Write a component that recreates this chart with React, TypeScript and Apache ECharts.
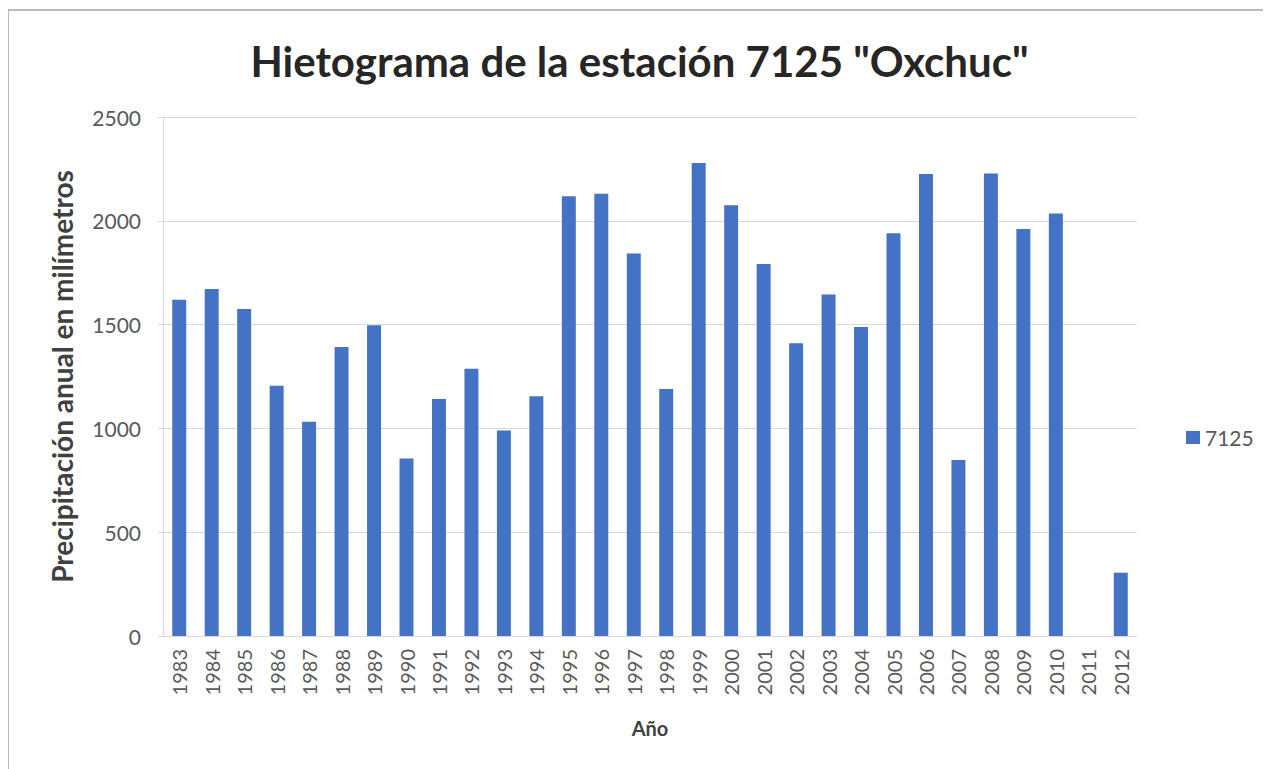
import React, { useEffect, useRef } from "react";
import * as echarts from "echarts";

const years = [
  "1983", "1984", "1985", "1986", "1987", "1988", "1989", "1990", "1991", "1992",
  "1993", "1994", "1995", "1996", "1997", "1998", "1999", "2000", "2001", "2002",
  "2003", "2004", "2005", "2006", "2007", "2008", "2009", "2010", "2011", "2012",
];
const precip7125: (number | null)[] = [
  1620, 1672, 1575, 1205, 1032, 1392, 1497, 855, 1142, 1287,
  990, 1155, 2118, 2130, 1842, 1190, 2278, 2075, 1792, 1410,
  1645, 1488, 1940, 2225, 848, 2228, 1960, 2035, null, 305,
];
const yTicks = [0, 500, 1000, 1500, 2000, 2500];

const FONT = "Lato, 'Open Sans', sans-serif";

export default function App() {
  const ref = useRef<HTMLDivElement>(null);
  useEffect(() => {
    if (!ref.current) return;
    const chart = echarts.init(ref.current, undefined, { renderer: "svg" });
    chart.setOption({
      animation: false,
      backgroundColor: "#ffffff",
      title: {
        text: 'Hietograma de la estación 7125 "Oxchuc"',
        left: "center",
        top: 27,
        textStyle: { fontFamily: FONT, fontWeight: "bold", fontSize: 42, color: "#262626" },
      },
      legend: {
        data: ["7125"],
        orient: "vertical",
        left: 1173,
        top: 414,
        itemWidth: 14,
        itemHeight: 13,
        itemGap: 6,
        textStyle: { fontFamily: FONT, fontSize: 21, color: "#595959" },
        icon: "rect",
      },
      grid: { left: 155, right: 134, top: 109, bottom: 133, containLabel: false },
      xAxis: {
        type: "category",
        data: years,
        name: "Año",
        nameLocation: "middle",
        nameGap: 82,
        nameTextStyle: { fontFamily: FONT, fontWeight: "bold", fontSize: 20, color: "#404040" },
        axisLine: { show: true, lineStyle: { color: "#d9d9d9", width: 1 } },
        axisTick: { show: false },
        axisLabel: { rotate: 90, fontFamily: FONT, fontSize: 20, color: "#595959", margin: 13 },
      },
      yAxis: {
        type: "value",
        min: yTicks[0],
        max: yTicks[yTicks.length - 1],
        interval: 500,
        name: "Precipitación anual en milímetros",
        nameLocation: "middle",
        nameGap: 87,
        nameRotate: 90,
        nameTextStyle: { fontFamily: FONT, fontWeight: "bold", fontSize: 28, color: "#404040" },
        axisLine: { show: true, lineStyle: { color: "#d9d9d9", width: 1 } },
        axisTick: { show: true, length: 5, lineStyle: { color: "#d9d9d9" } },
        axisLabel: {
          fontFamily: FONT,
          fontSize: 21,
          color: "#595959",
          margin: 22,
          formatter: (v: number) => String(v),
        },
        splitLine: { lineStyle: { color: "#d9d9d9", width: 1 } },
      },
      series: [
        {
          name: "7125",
          type: "bar",
          data: precip7125,
          barCategoryGap: "57%",
          itemStyle: { color: "#4472C4" },
        },
      ],
      graphic: [
        {
          type: "rect",
          shape: { x: 0, y: 2, width: 1270, height: 800 },
          style: { fill: "none", stroke: "#a6a6a6", lineWidth: 1.5 },
          silent: true,
        },
      ],
    });
    return () => chart.dispose();
  }, []);
  return <div ref={ref} style={{ width: 1263, height: 761 }} />;
}
